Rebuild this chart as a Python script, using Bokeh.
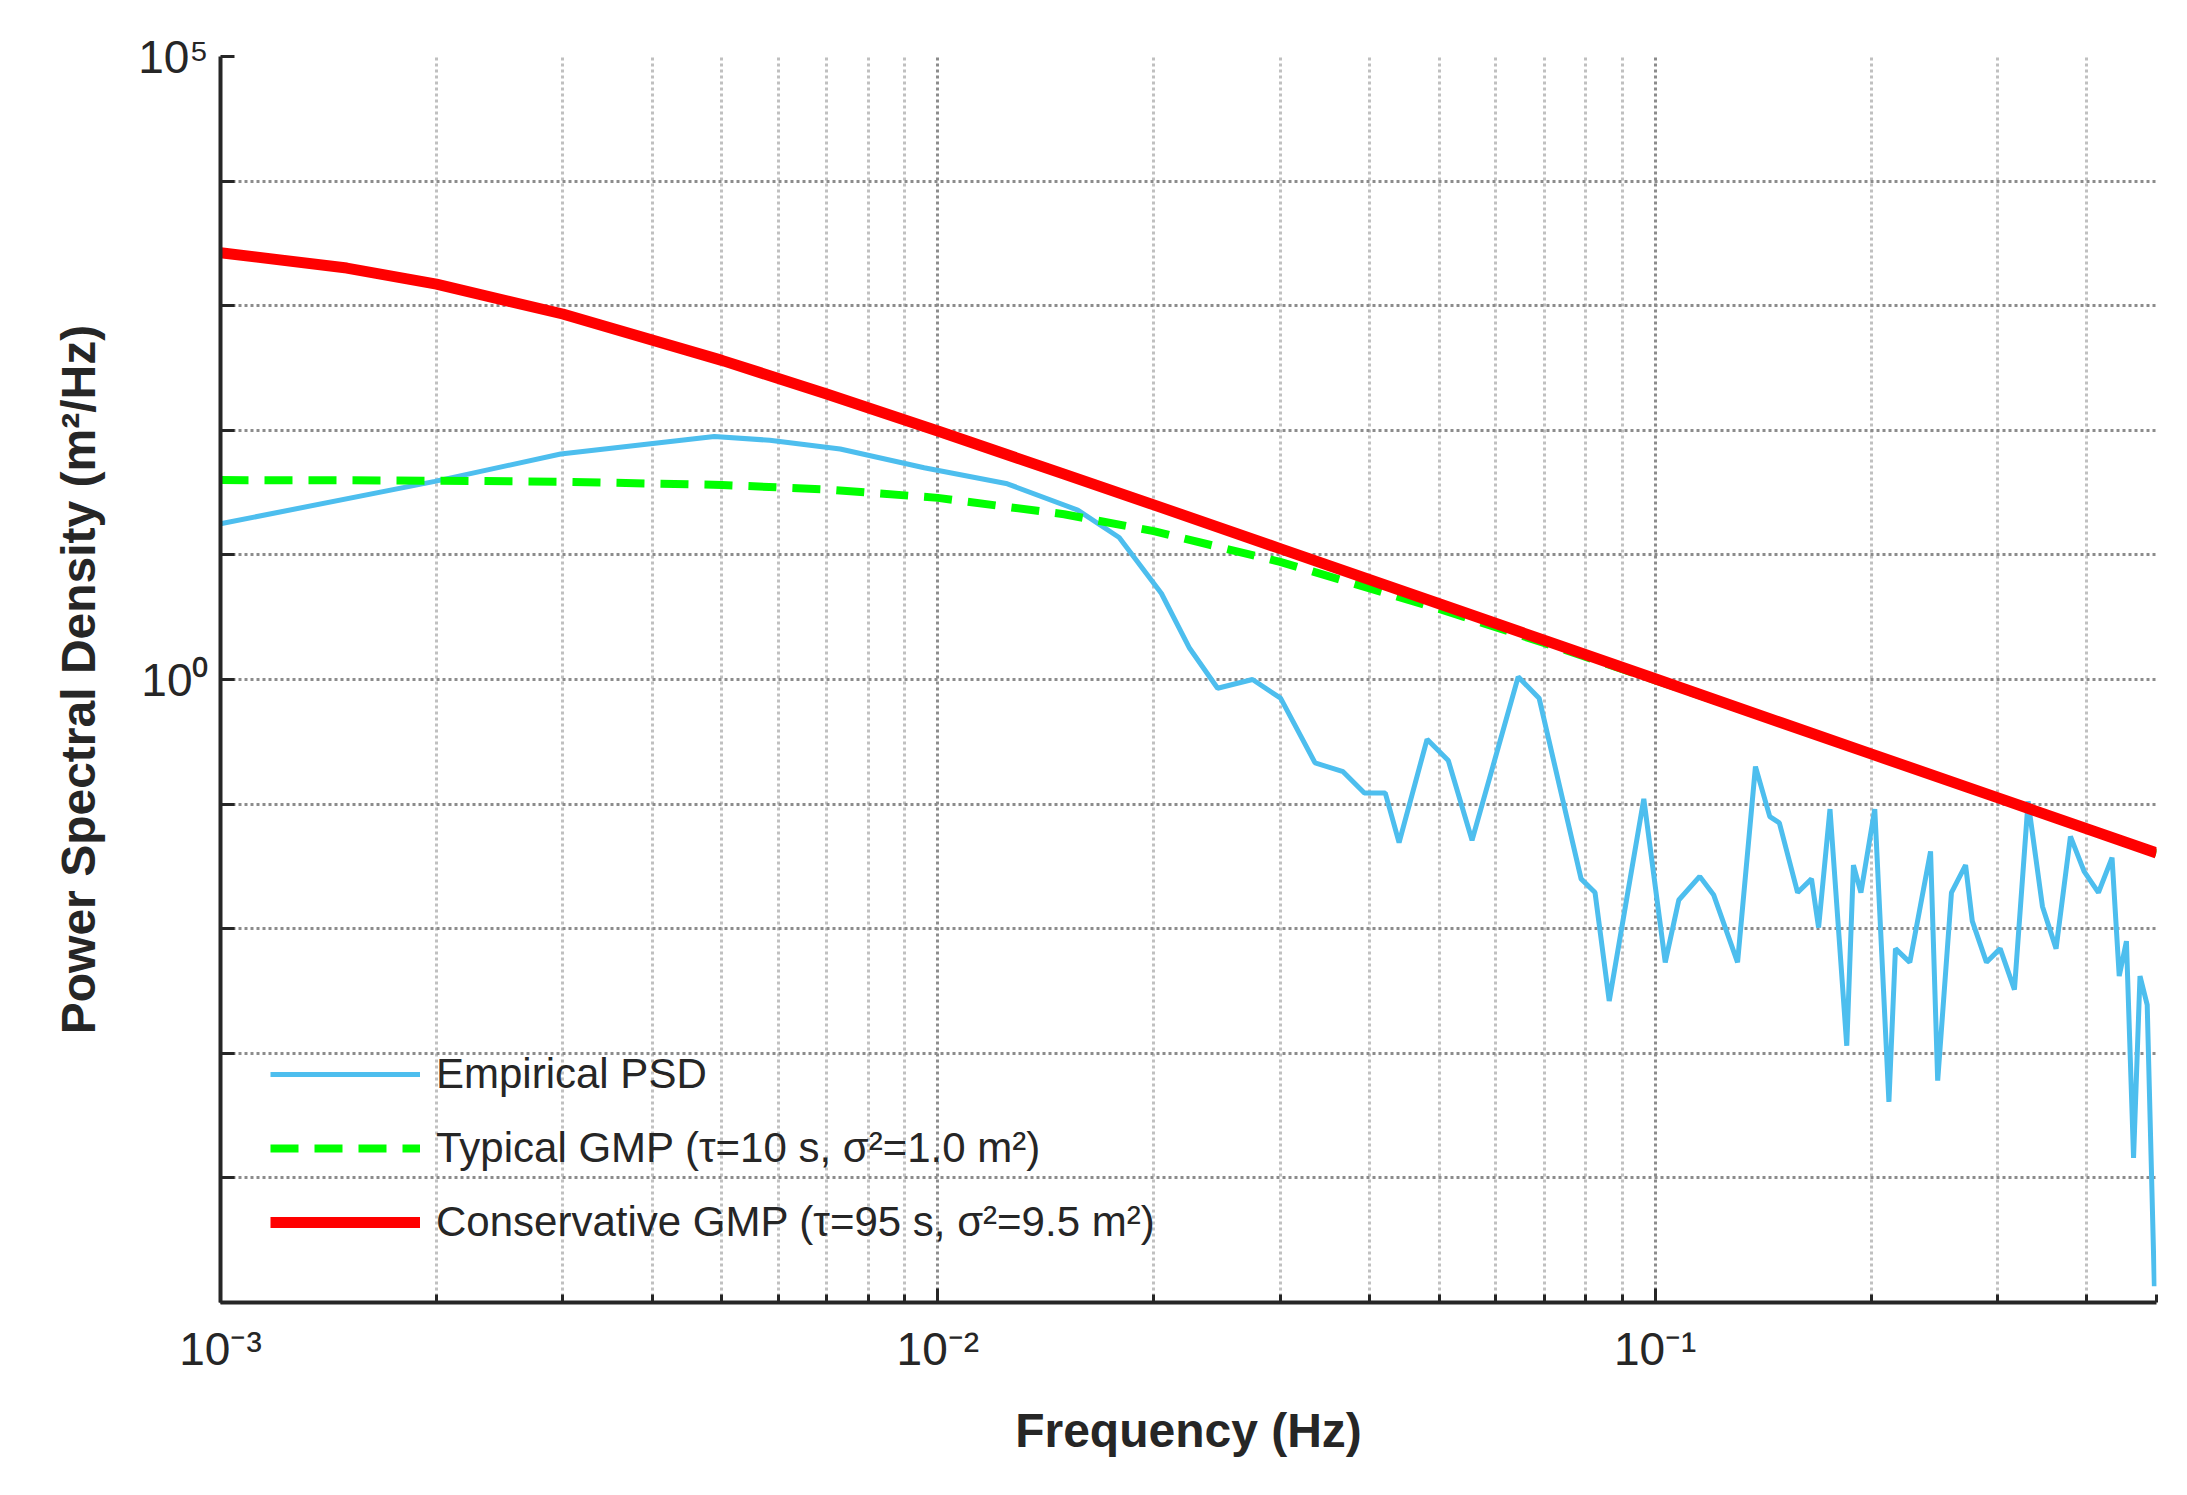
from bokeh.plotting import figure
from bokeh.models import FixedTicker, CustomJSTickFormatter, Legend, LegendItem
from bokeh.embed import file_html
from bokeh.resources import INLINE

# Model curves (sampled)
f_model = [0.001, 0.0015, 0.002, 0.003, 0.005, 0.007, 0.01, 0.015, 0.02, 0.03, 0.05, 0.07, 0.1, 0.15, 0.2, 0.3, 0.5]
psd_conservative = [2662, 2004, 1489, 858, 364, 195.6, 98.6, 44.5, 25.2, 11.22, 4.05, 2.07, 1.013, 0.450, 0.253, 0.1126, 0.0405]
psd_typical = [39.84, 39.7, 39.38, 38.63, 36.41, 33.52, 28.68, 21.19, 15.51, 8.79, 3.68, 1.967, 0.988, 0.445, 0.2516, 0.1124, 0.0405]

# Empirical PSD
f_emp = [0.001, 0.00199, 0.00298, 0.00488, 0.00583, 0.00731, 0.00957, 0.0125, 0.01567, 0.0179, 0.0205, 0.02244,
         0.02455, 0.02746, 0.03005, 0.03357, 0.03673, 0.03933, 0.04205, 0.04396, 0.04809, 0.05148, 0.05556,
         0.06443, 0.06891, 0.07885, 0.08246, 0.0863, 0.09643, 0.1033, 0.1079, 0.1154, 0.1207, 0.1303, 0.138,
         0.1445, 0.149, 0.158, 0.1652, 0.169, 0.1753, 0.185, 0.189, 0.1936, 0.2024, 0.2118, 0.2163, 0.2265,
         0.2421, 0.2477, 0.2589, 0.2709, 0.2768, 0.2897, 0.3027, 0.3169, 0.3311, 0.3467, 0.3622, 0.3793,
         0.3963, 0.415, 0.4335, 0.4436, 0.454, 0.4645, 0.4742, 0.4853, 0.4966]
psd_emp = [17.8, 38.9, 64.6, 89.1, 83.2, 70.8, 50.1, 37.2, 22.9, 13.8, 4.90, 1.78,
           0.851, 1.0, 0.708, 0.214, 0.182, 0.123, 0.123, 0.049, 0.331, 0.224, 0.0513,
           1.05, 0.708, 0.0251, 0.0195, 0.00263, 0.110, 0.00537, 0.0170, 0.0263, 0.0186, 0.00537, 0.200,
           0.0794, 0.0708, 0.0195, 0.0251, 0.0102, 0.0912, 0.00115, 0.0324, 0.0195, 0.0912, 0.000407, 0.00692, 0.00537,
           0.0417, 0.000603, 0.0195, 0.0324, 0.0115, 0.00537, 0.00692, 0.00324, 0.105, 0.0151, 0.00692, 0.0550,
           0.0288, 0.0195, 0.0372, 0.00417, 0.00794, 0.000145, 0.00417, 0.00245, 0.0000135]

x_ticks = [0.001, 0.01, 0.1]
y_ticks = [1e-5, 1e-4, 1e-3, 1e-2, 1e-1, 1e0, 1e1, 1e2, 1e3, 1e4, 1e5]
x_minor = [m * d for d in [0.001, 0.01, 0.1] for m in range(2, 10) if m * d <= 0.5]

FONT = "Liberation Sans"
p = figure(width=2170, height=1478, x_axis_type="log", y_axis_type="log",
           x_range=(0.001, 0.5), y_range=(1e-5, 1e5),
           output_backend="svg", toolbar_location=None,
           min_border_left=220, min_border_right=14, min_border_top=56, min_border_bottom=176)
p.outline_line_color = None
p.background_fill_color = "white"

p.xaxis.ticker = FixedTicker(ticks=x_ticks, minor_ticks=x_minor)
p.yaxis.ticker = FixedTicker(ticks=y_ticks, minor_ticks=[])
p.xaxis.formatter = CustomJSTickFormatter(code="""
const m = {'-3':'10\u207b\u00b3','-2':'10\u207b\u00b2','-1':'10\u207b\u00b9'};
return m[String(Math.round(Math.log10(tick)))] || '';
""")
p.yaxis.formatter = CustomJSTickFormatter(code="""
const e = Math.round(Math.log10(tick));
if (e == 5) return '10\u2075';
if (e == 0) return '10\u2070';
return '';
""")
for ax in (p.xaxis, p.yaxis):
    ax.axis_line_width = 4
    ax.axis_line_color = "#262626"
    ax.major_tick_in = 14
    ax.major_tick_out = 0
    ax.minor_tick_in = 8
    ax.minor_tick_out = 0
    ax.major_tick_line_width = 3
    ax.minor_tick_line_width = 3
    ax.major_tick_line_color = "#262626"
    ax.minor_tick_line_color = "#262626"
    ax.major_label_text_font = FONT
    ax.major_label_text_font_size = "46px"
    ax.major_label_text_color = "#262626"
    ax.axis_label_text_font = FONT
    ax.axis_label_text_font_style = "bold"
    ax.axis_label_text_font_size = "48px"
    ax.axis_label_text_color = "#262626"
p.xaxis.major_label_standoff = 20
p.yaxis.major_label_standoff = 12
p.xaxis.axis_label = "Frequency (Hz)"
p.yaxis.axis_label = "Power Spectral Density (m\u00b2/Hz)"
p.xaxis.axis_label_standoff = 26
p.yaxis.axis_label_standoff = 30

p.xgrid.ticker = FixedTicker(ticks=x_ticks, minor_ticks=x_minor)
p.ygrid.ticker = FixedTicker(ticks=y_ticks)
for g in (p.xgrid, p.ygrid):
    g.grid_line_color = "#8c8c8c"
    g.grid_line_width = 3
    g.grid_line_dash = "3 3"
p.xgrid.minor_grid_line_color = "#c0c0c0"
p.xgrid.minor_grid_line_width = 3
p.xgrid.minor_grid_line_dash = "3 3"

r_emp = p.line(f_emp, psd_emp, line_color="#4DBEEE", line_width=5)
r_typ = p.line(f_model, psd_typical, line_color="#00FF00", line_width=8, line_dash="28 16")
r_con = p.line(f_model, psd_conservative, line_color="#FF0000", line_width=11)

legend = Legend(items=[
    LegendItem(label="Empirical PSD", renderers=[r_emp]),
    LegendItem(label="Typical GMP (\u03c4=10 s, \u03c3\u00b2=1.0 m\u00b2)", renderers=[r_typ]),
    LegendItem(label="Conservative GMP (\u03c4=95 s, \u03c3\u00b2=9.5 m\u00b2)", renderers=[r_con]),
], location=(50, 50))
legend.background_fill_alpha = 0
legend.border_line_color = None
legend.label_text_font = FONT
legend.label_text_font_size = "42px"
legend.label_text_color = "#262626"
legend.glyph_width = 150
legend.glyph_height = 60
legend.label_height = 60
legend.spacing = 14
legend.label_standoff = 16
p.add_layout(legend)

open("out.html", "w").write(file_html(p, INLINE))
